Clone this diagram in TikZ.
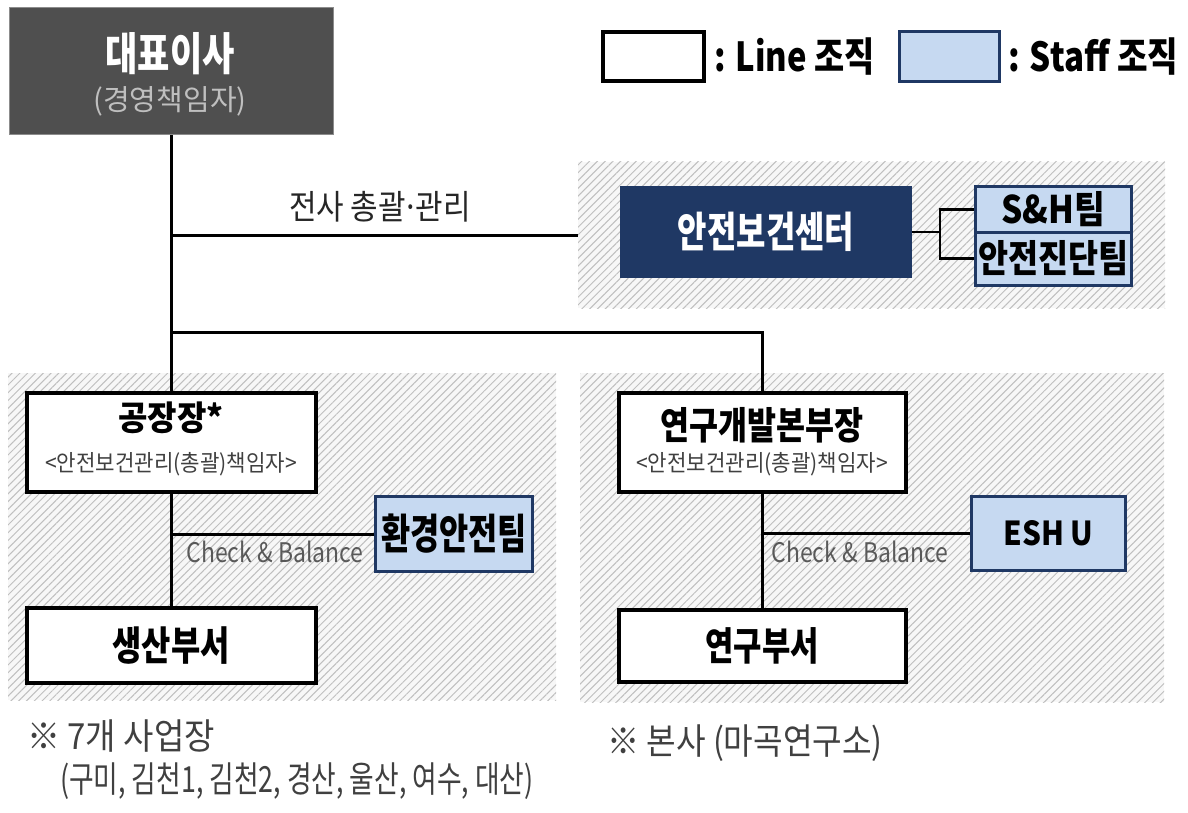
\documentclass[tikz,border=0pt]{standalone}
\usepackage{fontspec}
\setmainfont{Noto Sans CJK KR}
\usetikzlibrary{patterns.meta}
\definecolor{navy}{HTML}{1F3864}
\definecolor{staffblue}{HTML}{C6D9F1}
\definecolor{ceogray}{HTML}{4F4F4F}
\newcommand\kfnt[2]{\fontsize{#1}{#1}\selectfont\addfontfeatures{FakeStretch=#2}}
\tikzset{
  zone/.style={fill=black!3, inner sep=0, postaction={pattern={Lines[angle=45,distance=5.5pt,line width=1pt]}, pattern color=black!25}},
  linebox/.style={draw=black, line width=4pt, fill=white, inner sep=0},
  staffbox/.style={draw=navy, line width=3pt, fill=staffblue, inner sep=0, text=black},
  ceobox/.style={fill=ceogray, draw=black!45, line width=1pt, inner sep=0},
  conn/.style={line width=3pt, draw=black},
  txt/.style={inner sep=0},
}
\begin{document}
\begin{tikzpicture}[x=1pt,y=-1pt]
\useasboundingbox[fill=white] (0,0) rectangle (1188,813);
% hatched zones
\node[zone, minimum width=587, minimum height=146] (zhq) at (871.5,235) {};
\node[zone, minimum width=548, minimum height=327] (zl) at (282,536.5) {};
\node[zone, minimum width=584, minimum height=329] (zr) at (872,537.5) {};

% CEO
\node[ceobox, minimum width=324, minimum height=127] (ceo) at (171,71.5) {};
\node[txt, text=white, font=\bfseries\kfnt{45}{0.78}] (ceo-t) at (170,53.5) {대표이사};
\node[txt, text=black!25, font=\kfnt{29}{1.0}] (ceo-s) at (170,101.5) {(경영책임자)};

% legend
\node[linebox, minimum width=101, minimum height=49] (lg-line) at (653.5,56.5) {};
\node[txt, anchor=west, font=\bfseries\kfnt{40}{0.82}] (lg-line-t) at (714,57) {: Line 조직};
\node[staffbox, minimum width=100, minimum height=50] (lg-staff) at (949.5,56.5) {};
\node[txt, anchor=west, font=\bfseries\kfnt{40}{0.83}] (lg-staff-t) at (1008,57) {: Staff 조직};

% HQ safety center
\node[fill=navy, inner sep=0, minimum width=292, minimum height=92, text=white, font=\bfseries\kfnt{42}{0.76}] (hse) at (766,232) {안전보건센터};
\node[staffbox, minimum width=156, minimum height=45, font=\bfseries\kfnt{38}{0.88}] (sh) at (1053.5,209.5) {S\&H팀};
\node[staffbox, minimum width=156, minimum height=53, font=\bfseries\kfnt{38}{0.86}] (diag) at (1053.5,258.5) {안전진단팀};
\coordinate (br) at (940,232);
\draw[conn, line width=2.5pt] (hse.east) -- (br);
\draw[conn, line width=2.5pt] (sh.west) -| (br);
\draw[conn, line width=2.5pt] (diag.west) -| (br);

% factory side
\node[linebox, minimum width=289, minimum height=99] (fac) at (171,442.5) {};
\node[txt, font=\bfseries\kfnt{34}{0.94}] (fac-t) at (171,418) {공장장*};
\node[txt, text=black!75, font=\kfnt{23}{0.92}] (fac-s) at (171,464) {<안전보건관리(총괄)책임자>};
\node[staffbox, minimum width=157, minimum height=75, font=\bfseries\kfnt{42}{0.755}] (env) at (454,534) {환경안전팀};
\node[linebox, minimum width=289, minimum height=75, font=\bfseries\kfnt{40}{0.795}] (prod) at (171,645.5) {생산부서};
\node[txt, text=black!65, font=\kfnt{27}{0.85}] (cb1) at (275,552) {Check \& Balance};

% R&D side
\node[linebox, minimum width=287, minimum height=99] (rnd) at (762,442.5) {};
\node[txt, font=\bfseries\kfnt{38}{0.83}] (rnd-t) at (762,425) {연구개발본부장};
\node[txt, text=black!75, font=\kfnt{23}{0.92}] (rnd-s) at (762,464) {<안전보건관리(총괄)책임자>};
\node[staffbox, minimum width=154, minimum height=74, font=\bfseries\kfnt{33}{0.9}] (esh) at (1048.5,533.5) {ESH U};
\node[linebox, minimum width=287, minimum height=72, font=\bfseries\kfnt{39}{0.79}] (rlab) at (762,646) {연구부서};
\node[txt, text=black!65, font=\kfnt{27}{0.85}] (cb2) at (860,552) {Check \& Balance};

% connectors
\coordinate (j2) at (171,332);
\draw[conn] (ceo.south) -- (fac.north);
\draw[conn] (ceo.south |- zhq.west) -- (zhq.west);
\node[txt, text=black!85, font=\kfnt{34}{0.88}] (lbl-all) at (380,207) {전사 총괄\kern-0.1em·\kern-0.1em관리};
\draw[conn] (j2) -| (rnd.north);
\draw[conn] (fac.south) -- (prod.north);
\draw[conn] (env.west) -- (env.west -| fac.south);
\draw[conn] (rnd.south) -- (rlab.north);
\draw[conn] (esh.west) -- (esh.west -| rnd.south);

% footnotes
\node[txt, anchor=west, text=black!75, font=\kfnt{36}{0.917}] (fn1) at (27,736) {※ 7개 사업장};
\node[txt, anchor=west, text=black!75, font=\kfnt{36}{0.744}] (fn2) at (60,781) {(구미, 김천1, 김천2, 경산, 울산, 여수, 대산)};
\node[txt, anchor=west, text=black!75, font=\kfnt{36}{0.894}] (fn3) at (607,743) {※ 본사 (마곡연구소)};
\end{tikzpicture}
\end{document}
